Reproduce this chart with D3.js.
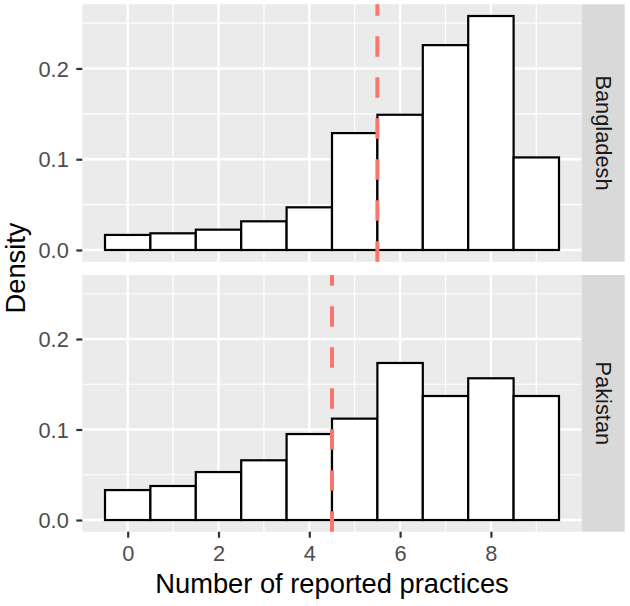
<!DOCTYPE html>
<html>
<head>
<meta charset="utf-8">
<script src="https://cdn.jsdelivr.net/npm/d3@7"></script>
<style>
  html, body { margin: 0; padding: 0; background: #fff; }
  svg { display: block; font-family: "Liberation Sans", Arial, sans-serif; }
</style>
</head>
<body>
<svg id="chart" width="630" height="606"></svg>
<script>
// ---- data ----
const bins = [0, 1, 2, 3, 4, 5, 6, 7, 8, 9];
const countries = ["Bangladesh", "Pakistan"];
const bangladesh = [0.0166, 0.0184, 0.0224, 0.0316, 0.047, 0.1288, 0.149, 0.2257, 0.2578, 0.102];
const pakistan = [0.0331, 0.0376, 0.053, 0.066, 0.095, 0.112, 0.1735, 0.137, 0.1566, 0.137];
const cutoffs = [5.5, 4.5];
const xTicks = [0, 2, 4, 6, 8];
const xMinor = [1, 3, 5, 7, 9];
const yTicks = [0, 0.1, 0.2];
const yTickLabels = ["0.0", "0.1", "0.2"];
const yMinor = [0.05, 0.15, 0.25];

const seriesList = [bangladesh, pakistan];

// ---- layout ----
const svg = d3.select("#chart");
const panelLeft = 82.3, panelRight = 581.7;
const stripW = 43;
const panels = [
  { top: 4.3, bottom: 261.7 },
  { top: 275, bottom: 531.7 }
];

const x = d3.scaleLinear().domain([-1, 10]).range([panelLeft, panelRight]);
const yMax = d3.max(seriesList.flat());
const yDomain = [-0.05 * yMax, 1.05 * yMax];

panels.forEach((p, i) => {
  const y = d3.scaleLinear().domain(yDomain).range([p.bottom, p.top]);
  const g = svg.append("g");
  const data = seriesList[i];

  // panel background
  g.append("rect")
    .attr("x", panelLeft).attr("y", p.top)
    .attr("width", panelRight - panelLeft).attr("height", p.bottom - p.top)
    .attr("fill", "#EBEBEB");

  // minor grid
  g.selectAll(".ymin").data(yMinor).join("line")
    .attr("x1", panelLeft).attr("x2", panelRight)
    .attr("y1", d => y(d)).attr("y2", d => y(d))
    .attr("stroke", "#fff").attr("stroke-width", 1.2);
  g.selectAll(".xmin").data(xMinor).join("line")
    .attr("y1", p.top).attr("y2", p.bottom)
    .attr("x1", d => x(d)).attr("x2", d => x(d))
    .attr("stroke", "#fff").attr("stroke-width", 1.2);
  // major grid
  g.selectAll(".ymaj").data(yTicks).join("line")
    .attr("x1", panelLeft).attr("x2", panelRight)
    .attr("y1", d => y(d)).attr("y2", d => y(d))
    .attr("stroke", "#fff").attr("stroke-width", 2.4);
  g.selectAll(".xmaj").data(xTicks).join("line")
    .attr("y1", p.top).attr("y2", p.bottom)
    .attr("x1", d => x(d)).attr("x2", d => x(d))
    .attr("stroke", "#fff").attr("stroke-width", 2.4);

  // bars
  g.selectAll(".bar").data(bins).join("rect")
    .attr("x", d => x(d - 0.5))
    .attr("width", d => x(d + 0.5) - x(d - 0.5))
    .attr("y", (d, j) => y(data[j]))
    .attr("height", (d, j) => y(0) - y(data[j]))
    .attr("fill", "#fff").attr("stroke", "#000").attr("stroke-width", 2.2);

  // dashed line (drawn from bottom to top)
  g.append("line")
    .attr("x1", x(cutoffs[i])).attr("x2", x(cutoffs[i]))
    .attr("y1", p.bottom).attr("y2", p.top)
    .attr("stroke", "#F8766D").attr("stroke-width", 4)
    .attr("stroke-dasharray", "20.5,20.5");

  // y axis
  const yAxis = d3.axisLeft(y).tickValues(yTicks)
    .tickFormat((d, k) => yTickLabels[k]).tickSize(6).tickPadding(7.5);
  const ya = svg.append("g").attr("transform", `translate(${panelLeft},0)`).call(yAxis);
  ya.select(".domain").remove();
  ya.selectAll(".tick line").attr("stroke", "#333333").attr("stroke-width", 2.2);
  ya.selectAll(".tick text").attr("fill", "#4D4D4D")
    .style("font-size", "21.8px").attr("dy", "0.35em");

  // strip
  svg.append("rect")
    .attr("x", panelRight).attr("y", p.top)
    .attr("width", stripW).attr("height", p.bottom - p.top)
    .attr("fill", "#D9D9D9");
  svg.append("text")
    .attr("transform", `translate(${panelRight + stripW / 2},${(p.top + p.bottom) / 2}) rotate(90)`)
    .attr("text-anchor", "middle").attr("dy", "0.35em")
    .attr("fill", "#1A1A1A").style("font-size", "21.8px")
    .text(countries[i]);
});

// x axis (bottom panel only)
const xAxis = d3.axisBottom(x).tickValues(xTicks).tickSize(6).tickPadding(8);
const xa = svg.append("g").attr("transform", `translate(0,${panels[1].bottom})`).call(xAxis);
xa.select(".domain").remove();
xa.selectAll(".tick line").attr("stroke", "#333333").attr("stroke-width", 2.2);
xa.selectAll(".tick text").attr("fill", "#4D4D4D").style("font-size", "21.8px");

// axis titles
svg.append("text")
  .attr("x", (panelLeft + panelRight) / 2).attr("y", 592.5)
  .attr("text-anchor", "middle").attr("fill", "#000")
  .style("font-size", "27.3px")
  .text("Number of reported practices");

svg.append("text")
  .attr("transform", `translate(25,${(panels[0].top + panels[1].bottom) / 2}) rotate(-90)`)
  .attr("text-anchor", "middle").attr("fill", "#000")
  .style("font-size", "27.3px")
  .text("Density");
</script>
</body>
</html>
